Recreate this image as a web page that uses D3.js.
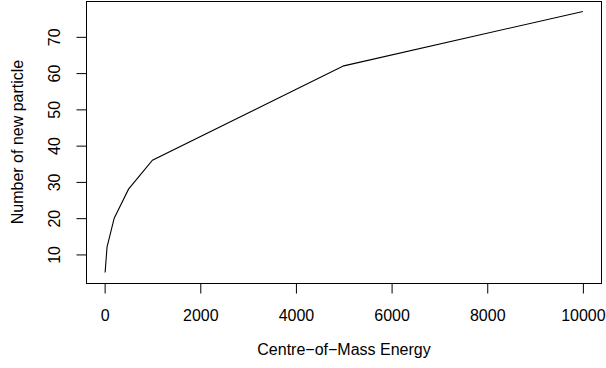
<!DOCTYPE html>
<html><head><meta charset="utf-8">
<script src="https://cdn.jsdelivr.net/npm/d3@7"></script>
<style>body{margin:0;background:#fff}svg{display:block}</style>
</head><body>
<script>
const energy = [10, 50, 200, 500, 1000, 5000, 10000];
const particles = [5, 12, 20, 28, 36, 62, 77];
const xTicks = [0, 2000, 4000, 6000, 8000, 10000];
const yTicks = [10, 20, 30, 40, 50, 60, 70];
const xTitle = "Centre\u2212of\u2212Mass Energy";
const yTitle = "Number of new particle";

const W = 606, H = 368;
const L = 86, R = 602, T = 1, B = 283;
const font = "'Liberation Sans', Arial, Helvetica, sans-serif";
const fs = 16;

function rpad(ext){ const d = (ext[1]-ext[0])*0.04; return [ext[0]-d, ext[1]+d]; }
const x = d3.scaleLinear().domain(rpad(d3.extent(energy))).range([L, R]);
const y = d3.scaleLinear().domain(rpad(d3.extent(particles))).range([B, T]);

const svg = d3.select("body").append("svg").attr("width", W).attr("height", H);

svg.append("rect").attr("x", L + 0.5).attr("y", T + 0.5).attr("width", R - L - 1).attr("height", B - T)
  .attr("fill", "none").attr("stroke", "#000").attr("stroke-width", 1);

const data = energy.map((e, i) => [e, particles[i]]);
svg.append("path").datum(data)
  .attr("d", d3.line().x(d => x(d[0])).y(d => y(d[1])))
  .attr("fill", "none").attr("stroke", "#000").attr("stroke-width", 1.1);

// x axis (R style: line only spans tick range)
const xa = svg.append("g").attr("transform", `translate(0,${B + 0.5})`)
  .call(d3.axisBottom(x).tickValues(xTicks).tickFormat(d3.format("d")).tickSize(10).tickSizeOuter(0));
xa.select(".domain").attr("d", `M${x(xTicks[0])},0H${x(xTicks[xTicks.length-1])}`);
xa.selectAll("text").attr("font-family", font).attr("font-size", fs).attr("fill", "#000")
  .attr("y", 31.5).attr("dy", null).attr("dominant-baseline", "central");

const ya = svg.append("g").attr("transform", `translate(${L + 0.5},0)`)
  .call(d3.axisLeft(y).tickValues(yTicks).tickSize(10).tickSizeOuter(0).tickFormat(d3.format("d")));
ya.select(".domain").attr("d", `M0,${y(yTicks[0])}V${y(yTicks[yTicks.length-1])}`);
ya.selectAll("text").attr("font-family", font).attr("font-size", fs).attr("fill", "#000")
  .attr("text-anchor", "middle").attr("dy", null).attr("x", null).attr("y", null)
  .attr("transform", "translate(-32,0) rotate(-90)")
  .attr("dominant-baseline", "central");

svg.append("text").attr("x", (L + R) / 2).attr("y", 349).attr("text-anchor", "middle")
  .attr("dominant-baseline", "central")
  .attr("font-family", font).attr("font-size", fs).text(xTitle);
svg.append("text").attr("transform", `translate(17.5,${(T + B) / 2}) rotate(-90)`)
  .attr("text-anchor", "middle").attr("dominant-baseline", "central")
  .attr("font-family", font).attr("font-size", fs).text(yTitle);
</script>
</body></html>
